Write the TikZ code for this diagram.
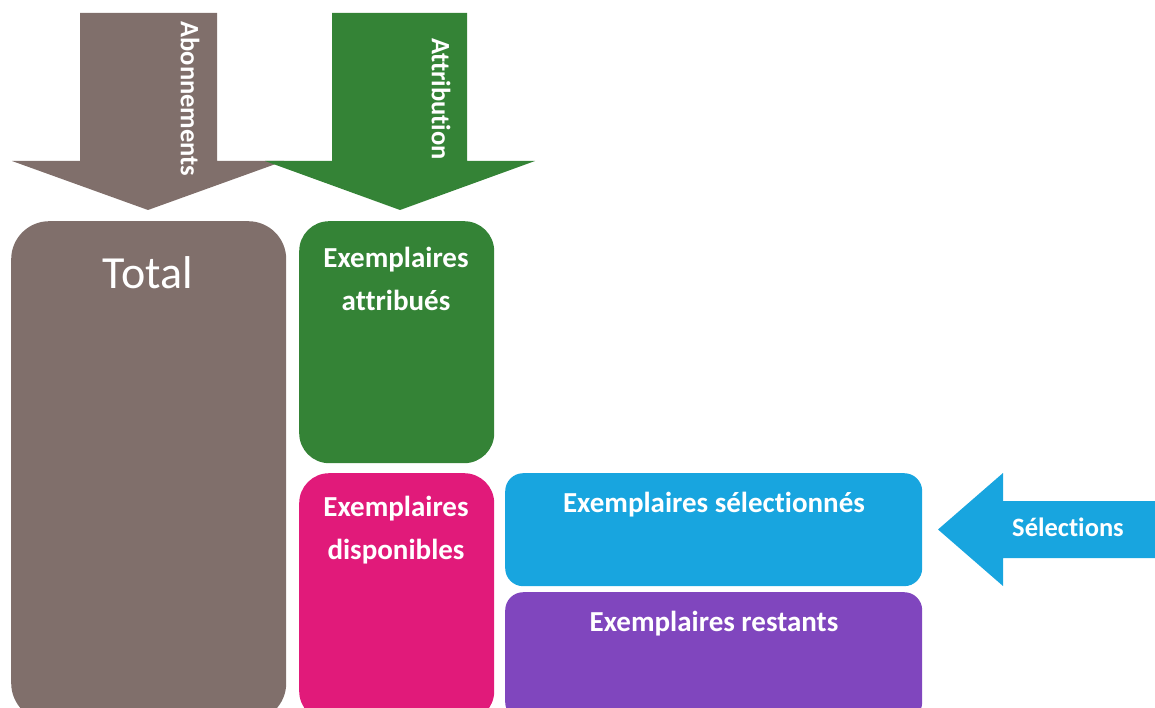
\documentclass[tikz,border=0pt]{standalone}
\usepackage{fontspec}
\setmainfont[Ligatures={NoCommon}]{Carlito}
\definecolor{cbrown}{RGB}{128,111,107}
\definecolor{cgreen}{RGB}{52,131,54}
\definecolor{cpink}{RGB}{225,26,122}
\definecolor{cblue}{RGB}{24,165,223}
\definecolor{cpurple}{RGB}{128,70,190}
\tikzset{
  blk/.style={draw=none, rectangle, rounded corners=#1, anchor=north west, inner sep=0pt},
  boxtxt/.style={text=white, font=\fontsize{29}{43}\selectfont\bfseries, align=center, inner sep=0pt},
  arrtxt/.style={text=white, font=\fontsize{26.5}{30}\selectfont\bfseries, inner sep=0pt},
}
\begin{document}
\begin{tikzpicture}[x=1pt,y=-1pt]
\useasboundingbox (0,0) rectangle (1155,708);
\clip (0,0) rectangle (1155,708);
% block arrows
\path[fill=cbrown] (80,13) -- (217,13) -- (217,161) -- (284,161) -- (148,210) -- (12,161) -- (80,161) -- cycle;
\path[fill=cgreen] (332,13) -- (467,13) -- (467,161) -- (535,161) -- (400,210) -- (265,161) -- (332,161) -- cycle;
\path[fill=cblue] (1155,501) -- (1003,501) -- (1003,473) -- (938,529.5) -- (1003,586) -- (1003,558) -- (1155,558) -- cycle;
\node[arrtxt, rotate=-90] (abo) at (190,99) {Abonnements};
\node[arrtxt, rotate=-90] (att) at (441,99) {Attribution};
\node[arrtxt] (sel) at (1068,527) {Sélections};
% boxes
\node[blk=38pt, fill=cbrown, minimum width=275pt, minimum height=500pt] (total) at (11,221) {};
\node[blk=30pt, fill=cgreen, minimum width=195pt, minimum height=242pt] (attr) at (299,221) {};
\node[blk=30pt, fill=cpink, minimum width=195pt, minimum height=248pt] (disp) at (299,473) {};
\node[blk=18pt, fill=cblue, minimum width=417pt, minimum height=113pt] (selb) at (505,473) {};
\node[blk=18pt, fill=cpurple, minimum width=417pt, minimum height=128pt] (rest) at (505,592) {};
% texts
\node[text=white, font=\fontsize{46}{50}\selectfont, inner sep=0pt] (ttotal) at (148,273) {Total};
\node[boxtxt] (tattr) at (396,279) {Exemplaires\\attribués};
\node[boxtxt] (tdisp) at (396,530) {Exemplaires\\disponibles};
\node[boxtxt] (tsel) at (714,505) {Exemplaires sélectionnés};
\node[boxtxt] (trest) at (714,624) {Exemplaires restants};
\end{tikzpicture}
\end{document}
